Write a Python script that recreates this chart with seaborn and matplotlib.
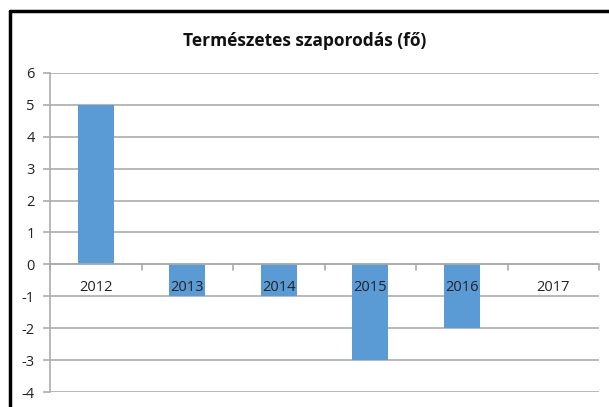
import matplotlib
matplotlib.use("Agg")
import matplotlib.pyplot as plt
import seaborn as sns
import pandas as pd
from matplotlib.lines import Line2D

years = ["2012", "2013", "2014", "2015", "2016", "2017"]
values = [5, -1, -1, -3, -2, 0]
yticks = [-4, -3, -2, -1, 0, 1, 2, 3, 4, 5, 6]
title = "Természetes szaporodás (fő)"

sns.set_theme(style="white")
plt.rcParams['font.family'] = ['Open Sans', 'DejaVu Sans']

df = pd.DataFrame({"year": years, "value": values})

fig = plt.figure(figsize=(6.09, 4.07), dpi=100)
ax = fig.add_axes([50/609, 1-392/407, (599-50)/609, (392-73)/407])

sns.barplot(data=df, x="year", y="value", color="#5B9BD5", saturation=1,
            width=0.39, linewidth=0, ax=ax, zorder=3)

ax.set_ylim(-4, 6)
ax.set_xlim(-0.5, len(years)-0.5)
ax.set_yticks(yticks)
ax.set_yticklabels([str(v) for v in yticks], fontsize=10.5, color="#222222")
ax.yaxis.grid(True, color="#ABABAB", linewidth=1.2, zorder=0)
ax.set_axisbelow(True)
ax.set_xlabel("")
ax.set_ylabel("")
for s in ["top", "right", "bottom"]:
    ax.spines[s].set_visible(False)
ax.spines["left"].set_color("#ABABAB")
ax.spines["left"].set_linewidth(1.2)
ax.tick_params(axis="y", which="both", left=True, length=5, width=1.2,
               color="#ABABAB", pad=6)
ax.set_xticks([])

# category axis at zero
ax.axhline(0, color="#ABABAB", linewidth=1.2, zorder=4)
for b in range(len(years) + 1):
    ax.plot([b - 0.5, b - 0.5], [0, -0.17], color="#ABABAB", linewidth=1.2,
            zorder=4, clip_on=False)
for i, yr in enumerate(years):
    ax.text(i, -0.72, yr, ha="center", va="center", fontsize=10.5,
            color="#222222", zorder=5)

fig.text(0.5, 1-41/407, title, ha="center", va="center", fontsize=12.5,
         fontweight="bold", color="#111111")

# chart frame border
fig.add_artist(Line2D([10/609, 10/609], [0, 1-11/407], color="black",
                      linewidth=2.5, transform=fig.transFigure))
fig.add_artist(Line2D([10/609, 1], [1-11/407, 1-11/407], color="black",
                      linewidth=2.5, transform=fig.transFigure))

fig.savefig("out.png", dpi=100)
